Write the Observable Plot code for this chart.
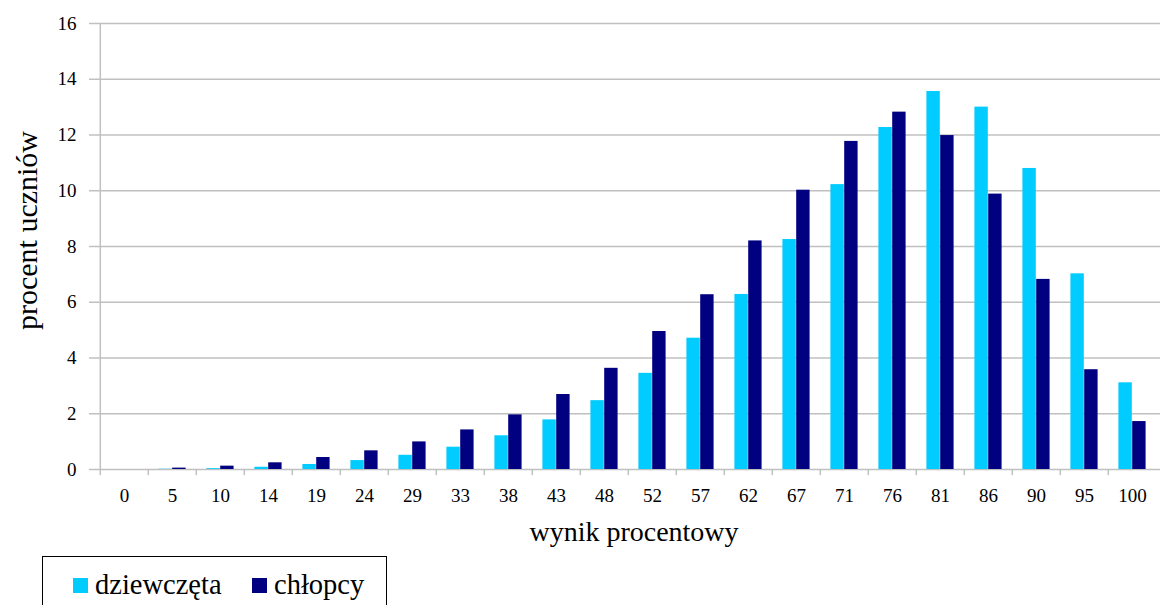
<!DOCTYPE html>
<html>
<head>
<meta charset="utf-8">
<script src="https://cdn.jsdelivr.net/npm/d3@7"></script>
<script src="https://cdn.jsdelivr.net/npm/@observablehq/plot@0.6"></script>
<style>
  html, body { margin: 0; padding: 0; background: #fff; }
  body { width: 1160px; height: 605px; overflow: hidden; position: relative; font-family: "Liberation Serif", "Times New Roman", serif; }
  #legend { position: absolute; left: 42px; top: 556px; width: 345px; height: 70px; border: 1.5px solid #000; box-sizing: border-box; font-family: "Liberation Serif", "Times New Roman", serif; }
  .item { position: absolute; top: 14px; font-size: 28.5px; line-height: 28px; color: #000; white-space: nowrap; font-family: "Liberation Serif", "Times New Roman", serif; }
  .sw { display: inline-block; width: 15px; height: 15px; margin-right: 7px; vertical-align: 1px; }
  svg text { font-family: "Liberation Serif", "Times New Roman", serif; }
</style>
</head>
<body>
<div id="chart"></div>
<div id="legend"></div>
<script>
const categories = ["0","5","10","14","19","24","29","33","38","43","48","52","57","62","67","71","76","81","86","90","95","100"];
const girls = [0, 0.01, 0.03, 0.08, 0.18, 0.32, 0.51, 0.8, 1.21, 1.78, 2.47, 3.45, 4.71, 6.28, 8.25, 10.22, 12.27, 13.56, 13.0, 10.8, 7.02, 3.11];
const boys  = [0, 0.05, 0.12, 0.24, 0.43, 0.67, 0.99, 1.42, 1.96, 2.69, 3.63, 4.95, 6.27, 8.2, 10.02, 11.77, 12.82, 11.98, 9.88, 6.82, 3.58, 1.72];
const seriesNames = ["dziewczęta", "chłopcy"];
const seriesColors = ["#00CCFF", "#000080"];
const yTicks = [0, 2, 4, 6, 8, 10, 12, 14, 16];

const W = 1160, H = 550, mL = 95, mR = 0, mT = 23, mB = 81;
const bw = (W - mL - mR) / categories.length;
const barW = 13.8;
const font = '"Liberation Serif", "Times New Roman", serif';
const grid = "#c0c0c0";

const girlsData = categories.map((c, i) => ({cat: c, v: girls[i]}));
const boysData = categories.map((c, i) => ({cat: c, v: boys[i]}));

const chart = Plot.plot({
  width: W, height: H,
  marginLeft: mL, marginRight: mR, marginTop: mT, marginBottom: mB,
  style: {fontFamily: font, background: "#fff", color: "#000"},
  x: {type: "band", domain: categories, padding: 0},
  y: {domain: [0, 16]},
  marks: [
    Plot.ruleY(yTicks, {stroke: grid, strokeWidth: 1.5}),
    Plot.ruleX([categories[0]], {x: d => d, dx: -bw / 2, y1: 0, y2: 16, stroke: grid, strokeWidth: 1.5}),
    Plot.ruleX(categories, {x: d => d, dx: -bw / 2, y1: 0, y2: -0.22, stroke: grid, strokeWidth: 1.5}),
    Plot.barY(girlsData, {x: "cat", y: "v", fill: seriesColors[0], insetLeft: bw / 2 - barW, insetRight: bw / 2}),
    Plot.barY(boysData, {x: "cat", y: "v", fill: seriesColors[1], insetLeft: bw / 2, insetRight: bw / 2 - barW}),
    Plot.axisY({ticks: yTicks, tickSize: 6, tickPadding: 13, stroke: grid, strokeWidth: 1.5, fontSize: 19, fontFamily: font, fill: "#000", label: null, tickFormat: d => String(d)}),
    Plot.axisX({tickSize: 0, tickPadding: 19, fontSize: 19, fontFamily: font, fill: "#000", label: null}),
    Plot.text(["procent uczniów"], {frameAnchor: "left", textAnchor: "middle", rotate: -90, dx: -68, dy: -16, fontSize: 30, fontFamily: font, fill: "#000"}),
    Plot.text(["wynik procentowy"], {frameAnchor: "bottom", textAnchor: "middle", lineAnchor: "bottom", dx: 6, dy: 71, fontSize: 28, fontFamily: font, fill: "#000"})
  ]
});
document.getElementById("chart").appendChild(chart);

const legend = document.getElementById("legend");
const lefts = [30, 209];
seriesNames.forEach((name, i) => {
  const it = document.createElement("div");
  it.className = "item";
  it.style.left = lefts[i] + "px";
  const sw = document.createElement("span");
  sw.className = "sw";
  sw.style.background = seriesColors[i];
  it.appendChild(sw);
  it.appendChild(document.createTextNode(name));
  legend.appendChild(it);
});
</script>
</body>
</html>
